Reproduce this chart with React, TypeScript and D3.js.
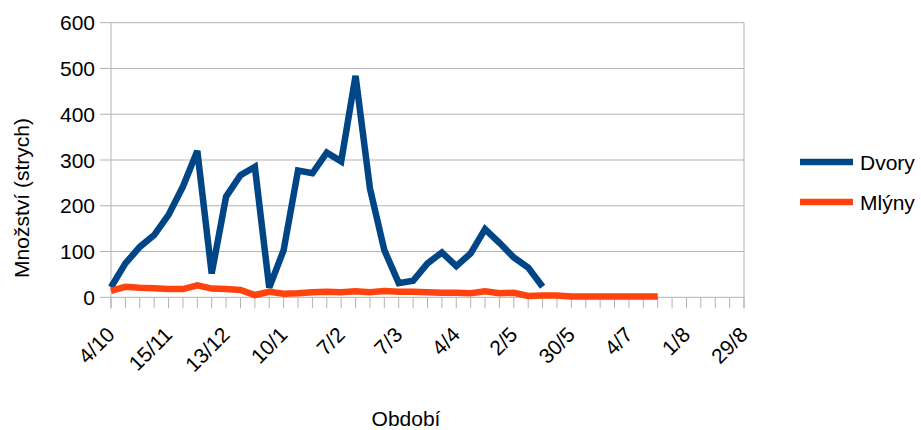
import React from "react";
import * as d3 from "d3";

const categories = [
  "4/10", "11/10", "18/10", "1/11", "15/11", "22/11", "29/11", "6/12", "13/12",
  "20/12", "27/12", "3/1", "10/1", "17/1", "24/1", "31/1", "7/2", "14/2", "21/2",
  "28/2", "7/3", "14/3", "21/3", "28/3", "4/4", "11/4", "18/4", "25/4", "2/5",
  "9/5", "16/5", "23/5", "30/5", "6/6", "13/6", "20/6", "4/7", "11/7", "18/7",
  "25/7", "1/8", "8/8", "15/8", "22/8", "29/8",
];

const dvory = [
  22, 74, 110, 136, 180, 242, 320, 52, 220, 267, 285, 21, 103, 277, 271, 316,
  297, 484, 238, 103, 31, 36, 74, 98, 68, 96, 149, 119, 87, 65, 23,
];

const mlyny = [
  14, 23, 21, 20, 18, 18, 26, 19, 18, 16, 5, 12, 8, 9, 11, 12, 11, 13, 11, 14,
  12, 12, 11, 10, 10, 9, 13, 9, 10, 3, 4, 4, 2, 2, 2, 2, 2, 2, 2,
];

const yTicks = [0, 100, 200, 300, 400, 500, 600];
const labelEvery = 4;

const series = [
  { name: "Dvory", values: dvory, color: "#004586" },
  { name: "Mlýny", values: mlyny, color: "#ff420e" },
];

const FONT = "'Liberation Sans', Arial, sans-serif";

export default function App() {
  const W = 921;
  const H = 430;
  const left = 111;
  const right = 744;
  const top = 22.7;
  const bottom = 297.3;

  const x = d3.scalePoint<string>().domain(categories).range([left, right]);
  const y = d3.scaleLinear().domain([0, 600]).range([bottom, top]);

  const line = d3
    .line<number>()
    .x((_, i) => x(categories[i]) as number)
    .y((d) => y(d));

  const grid = "#b3b3b3";

  return (
    <svg
      width={W}
      height={H}
      style={{ position: "absolute", left: 0, top: 0, background: "#fff" }}
      fontFamily={FONT}
    >
      <rect x={0} y={0} width={W} height={H} fill="#fff" />
      {yTicks.map((t) => (
        <g key={t}>
          <line x1={100} x2={right} y1={y(t)} y2={y(t)} stroke={grid} strokeWidth={1} />
          <text x={95} y={y(t)} dy="0.36em" textAnchor="end" fontSize={21} fill="#000">
            {t}
          </text>
        </g>
      ))}
      <line x1={right} x2={right} y1={top} y2={bottom + 11} stroke={grid} strokeWidth={1} />
      <line x1={left} x2={left} y1={top} y2={bottom + 11} stroke={grid} strokeWidth={1} />
      {categories.map((c) => (
        <line
          key={c}
          x1={x(c)}
          x2={x(c)}
          y1={bottom}
          y2={bottom + 11}
          stroke={grid}
          strokeWidth={1}
        />
      ))}
      {categories.map((c, i) =>
        i % labelEvery === 0 ? (
          <text
            key={"l" + c}
            transform={`translate(${(x(c) as number) + 5},${336}) rotate(-45)`}
            textAnchor="end"
            fontSize={21}
            fill="#000"
          >
            {c}
          </text>
        ) : null
      )}
      {series.map((s) => (
        <path
          key={s.name}
          d={line(s.values) || ""}
          fill="none"
          stroke={s.color}
          strokeWidth={6.5}
          strokeLinejoin="miter"
        />
      ))}
      <text
        transform={`translate(29,198) rotate(-90)`}
        textAnchor="middle"
        fontSize={21}
        fill="#000"
      >
        Množství (strych)
      </text>
      <text x={406} y={426} textAnchor="middle" fontSize={21} fill="#000">
        Období
      </text>
      {series.map((s, i) => (
        <g key={"lg" + s.name} transform={`translate(800,${162 + i * 40})`}>
          <line x1={0} x2={53} y1={0} y2={0} stroke={s.color} strokeWidth={6.5} />
          <text x={60} y={0} dy="0.36em" fontSize={21} fill="#000">
            {s.name}
          </text>
        </g>
      ))}
    </svg>
  );
}
